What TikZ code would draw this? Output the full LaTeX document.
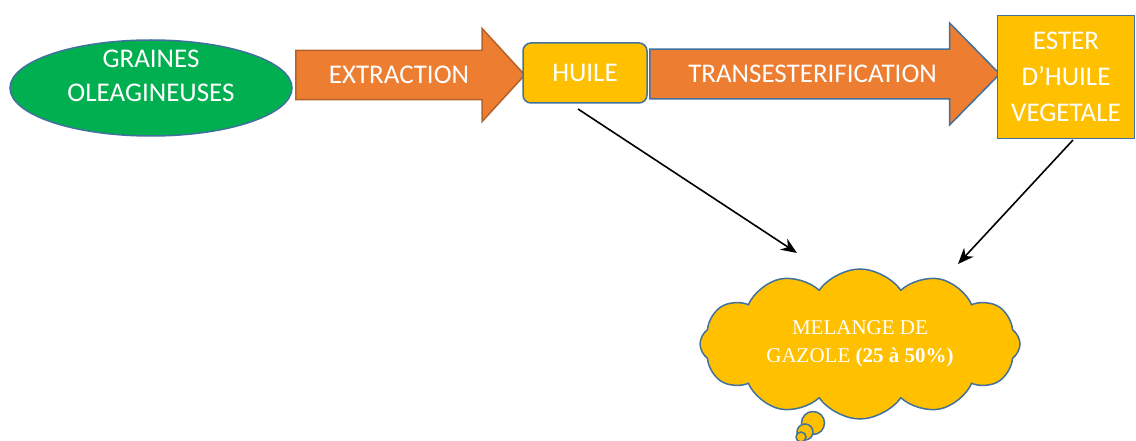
\documentclass[tikz,border=0pt]{standalone}
\usepackage{fontspec}
\setmainfont{Carlito}
\newfontfamily\timesfont{Liberation Serif}
\usetikzlibrary{shapes,shapes.arrows,shapes.symbols,arrows.meta}
\definecolor{vert}{HTML}{00B050}
\definecolor{jaune}{HTML}{FFC000}
\definecolor{orangefl}{HTML}{ED7D31}
\definecolor{bord}{HTML}{41719C}
\definecolor{bordfl}{HTML}{B5622A}
\tikzstyle{everynode}=[text=white,align=center,font=\fontsize{27}{34}\selectfont]
\tikzstyle{graine}=[ellipse,fill=vert,draw=bord,line width=1.5pt,minimum width=282,minimum height=96]
\tikzstyle{boite}=[rectangle,everynode,fill=jaune,draw=bord,line width=1.5pt]
\tikzstyle{fleche}=[single arrow,everynode,fill=orangefl,line width=1.5pt,inner xsep=0pt,inner ysep=15pt,anchor=tail]
\tikzstyle{nuage}=[cloud,fill=jaune,draw=bord,line width=1.5pt,text=white,align=center,
  cloud puffs=12,cloud puff arc=110,cloud ignores aspect,font=\timesfont\fontsize{21}{28}\selectfont]
\tikzstyle{bulle}=[circle,fill=jaune,draw=bord,line width=1.5pt,inner sep=0pt]
\tikzstyle{lien}=[-{Stealth[length=16pt,width=13pt]},line width=1.6pt]

\begin{document}
\begin{tikzpicture}[x=1pt,y=-1pt]
    \useasboundingbox (0,0) rectangle (1136,441);
    \node[graine] (graines) at (151,88) {};
    \node[everynode] (grainestexte) at (151,76) {GRAINES\\OLEAGINEUSES};
    \node[fleche,draw=bordfl,minimum height=229,minimum width=92,
      single arrow head extend=22,single arrow tip angle=95] (extraction) at (295,75) {EXTRACTION};
    \node[boite,rounded corners=8pt,minimum width=124,minimum height=60] (huile) at (585,73) {HUILE};
    \node[fleche,draw=bord,minimum height=350,minimum width=102,
      single arrow head extend=26,single arrow tip angle=91] (transest) at (649,74) {TRANSESTERIFICATION};
    \node[boite,minimum width=137,minimum height=123,font=\fontsize{27}{36}\selectfont] (ester) at (1066,77) {ESTER\\D’HUILE\\VEGETALE};
    \node[nuage,minimum width=320,minimum height=150] (melange) at (860,344)
      {MELANGE DE\\GAZOLE \textbf{(25 à 50\%)}};
    \node[bulle,minimum size=23] (bulle1) at (813,423) {};
    \node[bulle,minimum size=16] (bulle2) at (805,432) {};
    \node[bulle,minimum size=10] (bulle3) at (801,437) {};
    % liens vers le melange
    \coordinate (huilebas) at (578,109);
    \coordinate (esterbas) at (1073,140);
    \coordinate (nuagegauche) at (797,253);
    \coordinate (nuagedroite) at (958,264);
    \draw[lien] (huilebas) -- (nuagegauche);
    \draw[lien] (esterbas) -- (nuagedroite);
\end{tikzpicture}
\end{document}
